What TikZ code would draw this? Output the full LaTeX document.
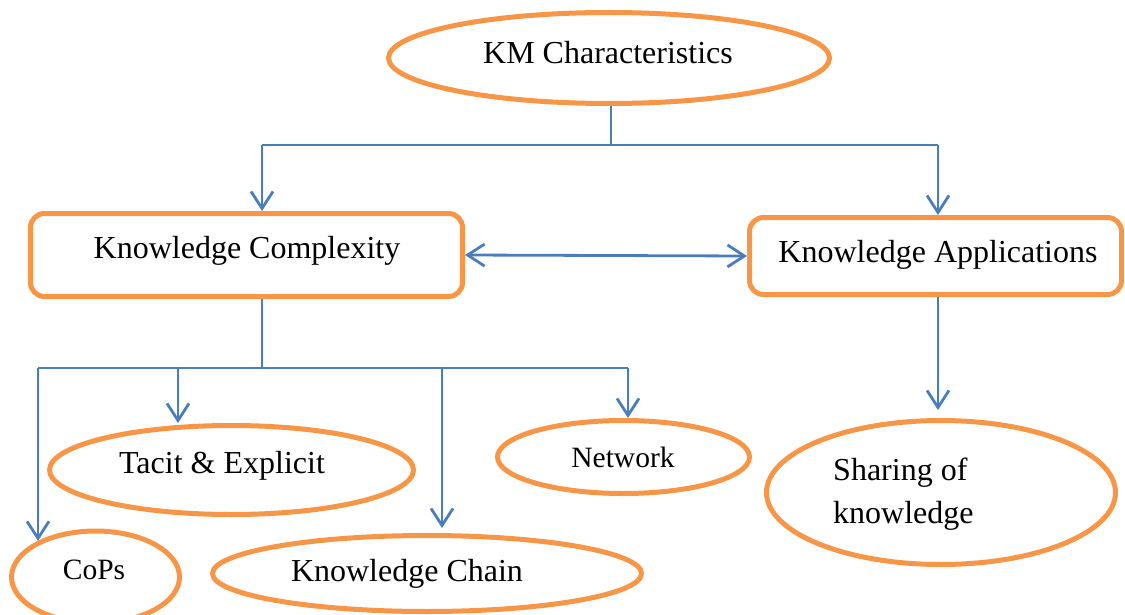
\documentclass[tikz,border=0pt]{standalone}
\usepackage{fontspec}
\setmainfont{Liberation Serif}
\usetikzlibrary{shapes.geometric,arrows.meta}
\definecolor{kmorange}{HTML}{F79646}
\definecolor{kmblue}{HTML}{4A7EBB}
\begin{document}
\begin{tikzpicture}[x=1pt,y=-1pt,
  oval/.style={ellipse, draw=kmorange, line width=5pt, inner sep=0pt},
  panel/.style={rectangle, rounded corners=14pt, draw=kmorange, line width=5pt, inner sep=0pt},
  txt/.style={font=\fontsize{32}{37}\selectfont, inner sep=0pt, anchor=base},
  smalltxt/.style={txt, font=\fontsize{29.5}{34}\selectfont},
  link/.style={draw=kmblue, line width=2.8pt},
  arrow/.style={link, -{Straight Barb[length=17pt,width=22pt]}},
  twoway/.style={link, {Straight Barb[length=17pt,width=22pt]}-{Straight Barb[length=17pt,width=22pt]}}
]
\useasboundingbox (0,0) rectangle (1125,615);

% shapes
\node[oval, minimum width=441pt, minimum height=91pt] (km) at (609,58) {};
\node[panel, minimum width=432pt, minimum height=83pt] (kc) at (246.5,255) {};
\node[panel, minimum width=372pt, minimum height=77pt] (ka) at (935.5,256) {};
\node[oval, minimum width=364pt, minimum height=89pt] (tac) at (231.5,470) {};
\node[oval, minimum width=252pt, minimum height=73pt] (net) at (623.5,457) {};
\node[oval, minimum width=168pt, minimum height=92pt] (cops) at (95.5,577) {};
\node[oval, minimum width=429pt, minimum height=76pt] (kch) at (427,573.5) {};
\node[oval, minimum width=349pt, minimum height=144pt] (sh) at (941,492.5) {};

% texts
\node[txt] (kmt) at (608,64) {KM Characteristics};
\node[txt] (kct) at (247,258) {Knowledge Complexity};
\node[txt] (kat) at (938,262) {Knowledge Applications};
\node[txt] (tact) at (222,473) {Tacit \& Explicit};
\node[smalltxt] (nett) at (623,467) {Network};
\node[smalltxt] (copst) at (94,579) {CoPs};
\node[txt] (kcht) at (407,581) {Knowledge Chain};
\node[txt, anchor=base west] (sht1) at (833,480) {Sharing of};
\node[txt, anchor=base west] (sht2) at (833,523) {knowledge};

% connectors from the top ellipse
\coordinate (hub) at (611,145);
\coordinate (lb) at (262,145);
\coordinate (rb) at (938,145);
\draw[link] (hub |- km.south) -- (hub);
\draw[link] (lb) -- (rb);
\draw[arrow] (lb) -- (lb |- kc.north);
\draw[arrow] (rb) -- (rb |- ka.north);
\draw[twoway] (kc.east) -- (ka.west);

% connectors below Knowledge Complexity
\coordinate (hub2) at (262,368);
\coordinate (c1) at (38,368);
\coordinate (c2) at (178,368);
\coordinate (c3) at (442,368);
\coordinate (c4) at (628,368);
\draw[link] (hub2 |- kc.south) -- (hub2);
\draw[link] (c1) -- (c4);
\draw[arrow] (c1) -- (c1 |- cops.148);
\draw[arrow] (c2) -- (c2 |- tac.north);
\draw[arrow, shorten >=5pt] (c3) -- (c3 |- kch.north);
\draw[arrow] (c4) -- (c4 |- net.north);

% connector below Knowledge Applications
\draw[arrow, shorten >=8pt] (rb |- ka.south) -- (rb |- sh.north);
\end{tikzpicture}
\end{document}
